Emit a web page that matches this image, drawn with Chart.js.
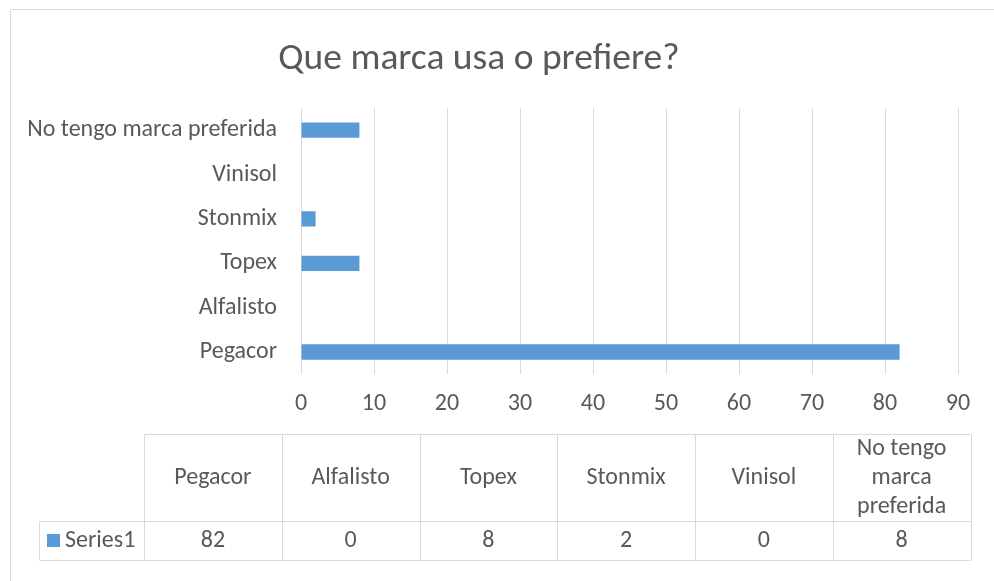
<!DOCTYPE html>
<html>
<head>
<meta charset="utf-8">
<script src="https://cdn.jsdelivr.net/npm/chart.js@4.4.1/dist/chart.umd.min.js"></script>
<style>
  html, body { margin: 0; padding: 0; background: #fff; }
  #wrap { position: relative; width: 994px; height: 581px; }
</style>
</head>
<body>
<div id="wrap"><canvas id="chart" width="994" height="581"></canvas></div>
<script>
const categories = ['Pegacor', 'Alfalisto', 'Topex', 'Stonmix', 'Vinisol', 'No tengo marca preferida'];
const values = [82, 0, 8, 2, 0, 8];
const seriesName = 'Series1';
const xTicks = [0, 10, 20, 30, 40, 50, 60, 70, 80, 90];

const FONT = 'Carlito, Lato, "Open Sans", sans-serif';
const TEXT = '#595959';
const GRID = '#d9d9d9';
const BAR = '#5b9bd5';

// table header labels, wrapped like the original
const headerLines = ['Pegacor', 'Alfalisto', 'Topex', 'Stonmix', 'Vinisol', ['No tengo', 'marca', 'preferida']];

const frameAndTable = {
    id: 'frameAndTable',
    beforeDraw(chart) {
        const ctx = chart.ctx;
        ctx.save();
        ctx.strokeStyle = GRID;
        ctx.lineWidth = 1;
        ctx.beginPath();
        ctx.moveTo(10.5, 581);
        ctx.lineTo(10.5, 9.5);
        ctx.lineTo(994, 9.5);
        ctx.stroke();
        ctx.restore();
    },
    afterDraw(chart) {
        const ctx = chart.ctx;
        const left = 39.5, firstCol = 144, colW = (970.5 - 144) / categories.length;
        const top = 434.5, mid = 521.5, bottom = 560.5;
        ctx.save();
        ctx.strokeStyle = GRID;
        ctx.lineWidth = 1;
        ctx.beginPath();
        ctx.moveTo(firstCol + 0.5, top); ctx.lineTo(970.5, top);
        ctx.moveTo(left, mid); ctx.lineTo(970.5, mid);
        ctx.moveTo(left, bottom); ctx.lineTo(970.5, bottom);
        ctx.moveTo(left, mid); ctx.lineTo(left, bottom);
        for (let i = 0; i <= categories.length; i++) {
            const x = Math.round(firstCol + i * colW) + 0.5;
            ctx.moveTo(x, top); ctx.lineTo(x, bottom);
        }
        ctx.stroke();

        ctx.fillStyle = TEXT;
        ctx.font = '24px ' + FONT;
        ctx.textAlign = 'center';
        ctx.textBaseline = 'middle';
        categories.forEach((c, i) => {
            const cx = firstCol + (i + 0.5) * colW;
            const lines = Array.isArray(headerLines[i]) ? headerLines[i] : [headerLines[i]];
            const lh = 29;
            const y0 = (top + mid) / 2 - (lines.length - 1) * lh / 2;
            lines.forEach((l, k) => ctx.fillText(l, cx, y0 + k * lh));
            ctx.fillText(String(values[i]), cx, (mid + bottom) / 2);
        });
        // legend key + series name
        ctx.fillStyle = BAR;
        ctx.fillRect(47, 534, 13, 13);
        ctx.fillStyle = TEXT;
        ctx.textAlign = 'left';
        ctx.fillText(seriesName, 65, (mid + bottom) / 2);
        ctx.restore();
    }
};

new Chart(document.getElementById('chart'), {
    type: 'bar',
    data: {
        labels: categories,
        datasets: [{
            label: seriesName,
            data: values,
            backgroundColor: BAR,
            borderWidth: 0,
            categoryPercentage: 1,
            barPercentage: 0.345
        }]
    },
    options: {
        indexAxis: 'y',
        responsive: false,
        animation: false,
        layout: { padding: { left: 0, right: 36, top: 0, bottom: 148 } },
        scales: {
            x: {
                min: 0,
                max: 90,
                afterBuildTicks: (scale) => { scale.ticks = xTicks.map(v => ({ value: v })); },
                grid: { color: GRID, drawTicks: false },
                border: { display: false },
                ticks: { color: TEXT, font: { family: FONT, size: 24 }, padding: 15 }
            },
            y: {
                reverse: true,
                afterFit: (scale) => { scale.width = 301; },
                grid: { display: false },
                border: { display: false },
                ticks: { color: TEXT, font: { family: FONT, size: 24 }, padding: 16 }
            }
        },
        plugins: {
            legend: { display: false },
            tooltip: { enabled: false },
            title: {
                display: true,
                text: 'Que marca usa o prefiere?',
                color: TEXT,
                font: { family: FONT, size: 37.5, weight: 'normal' },
                padding: { top: 37, bottom: 26 }
            }
        }
    },
    plugins: [frameAndTable]
});
</script>
</body>
</html>
